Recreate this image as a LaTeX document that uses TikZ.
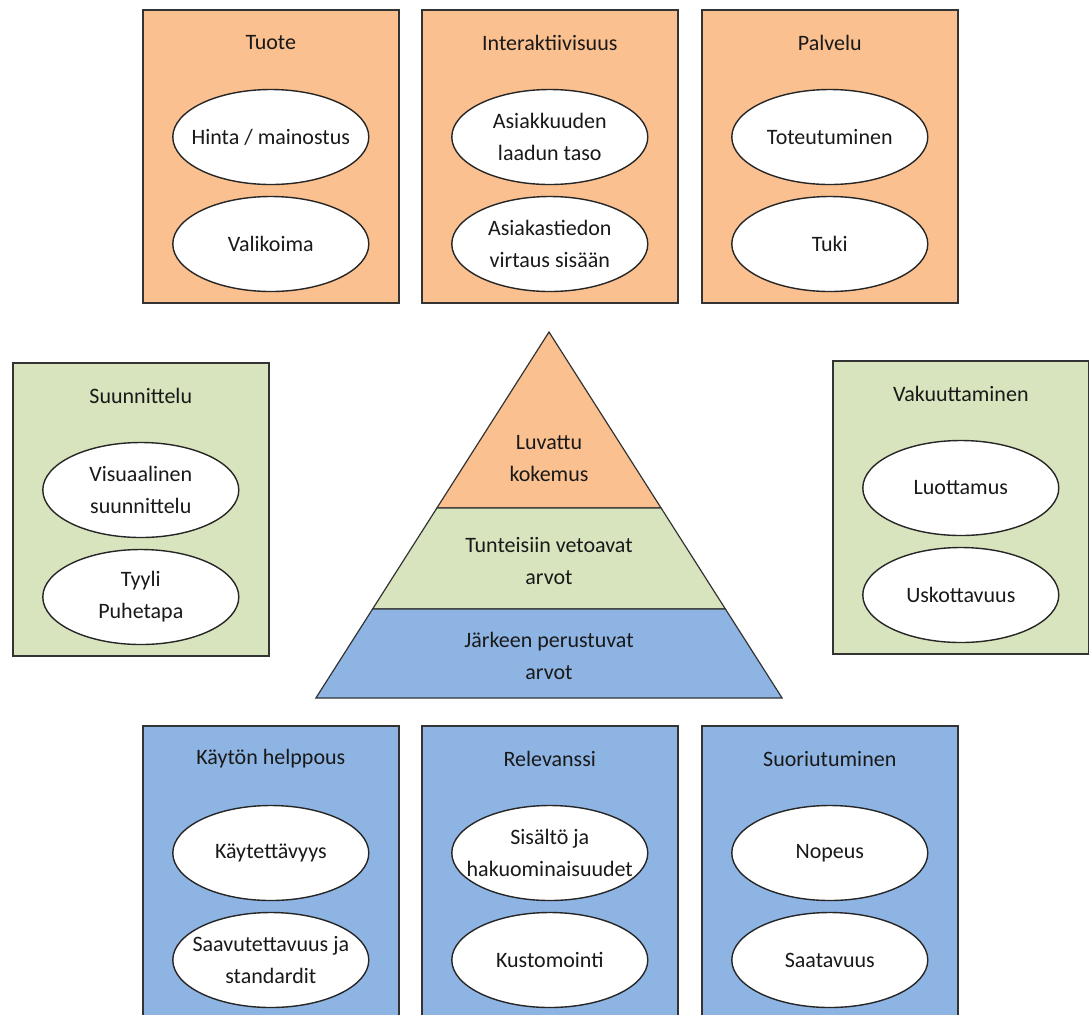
\documentclass[tikz,border=0pt]{standalone}
\usepackage{fontspec}
\setmainfont{Carlito}
\usetikzlibrary{shapes.geometric}

\definecolor{lightorange}{HTML}{FAC090}
\definecolor{lightgreen}{HTML}{D7E4BD}
\definecolor{lightblue}{HTML}{8EB4E3}

\tikzset{
  every node/.style={font=\fontsize{11}{16}\selectfont, text=black!90},
  panel/.style={draw=black!80, line width=0.8pt, minimum width=128pt, minimum height=146.5pt, anchor=north west, inner sep=0pt},
  oval/.style={ellipse, draw=black!85, line width=0.7pt, fill=white, minimum width=98pt, minimum height=47.5pt, inner sep=0pt},
  ovaltext/.style={align=center, inner sep=0pt},
  layer/.style={draw=black!80, line width=0.6pt},
}

% one coloured panel: name, corner, fill, title, upper oval, lower oval
\newcommand{\panelbox}[6]{%
  \node[panel, fill=#3] (#1) at (#2) {};
  \node (#1-title) at ([yshift=-17pt]#1.north) {#4};
  \node[oval, label={[ovaltext]center:{#5}}] (#1-a) at ([yshift=-64pt]#1.north) {};
  \node[oval, label={[ovaltext]center:{#6}}] (#1-b) at ([yshift=-117.5pt]#1.north) {};
}

\begin{document}
\begin{tikzpicture}[x=0.5pt, y=-0.5pt]
  \path[use as bounding box, clip] (0,0) rectangle (1089,1014);

  % top row
  \panelbox{tuote}{142,9}{lightorange}{Tuote}{Hinta / mainostus}{Valikoima}
  \panelbox{interakt}{421,9}{lightorange}{Interaktiivisuus}{Asiakkuuden\\laadun taso}{Asiakastiedon\\virtaus sisään}
  \panelbox{palvelu}{701,9}{lightorange}{Palvelu}{Toteutuminen}{Tuki}

  % sides
  \panelbox{suunn}{12,362}{lightgreen}{Suunnittelu}{Visuaalinen\\suunnittelu}{Tyyli\\Puhetapa}
  \panelbox{vakuut}{832,360}{lightgreen}{Vakuuttaminen}{Luottamus}{Uskottavuus}

  % bottom row
  \panelbox{kaytto}{142,725}{lightblue}{Käytön helppous}{Käytettävyys}{Saavutettavuus ja\\standardit}
  \panelbox{relev}{421,725}{lightblue}{Relevanssi}{Sisältö ja\\hakuominaisuudet}{Kustomointi}
  \panelbox{suoriu}{701,725}{lightblue}{Suoriutuminen}{Nopeus}{Saatavuus}

  % pyramid
  \filldraw[layer, fill=lightorange] (549,332) -- (661.1,508) -- (436.9,508) -- cycle;
  \filldraw[layer, fill=lightgreen] (436.9,508) -- (661.1,508) -- (725.4,609) -- (372.6,609) -- cycle;
  \filldraw[layer, fill=lightblue] (372.6,609) -- (725.4,609) -- (782.1,698) -- (315.9,698) -- cycle;

  \node[align=center] (luvattu) at (549,459) {Luvattu\\kokemus};
  \node[align=center] (tunne) at (549,561) {Tunteisiin vetoavat\\arvot};
  \node[align=center] (jarki) at (549,656) {Järkeen perustuvat\\arvot};
\end{tikzpicture}
\end{document}
